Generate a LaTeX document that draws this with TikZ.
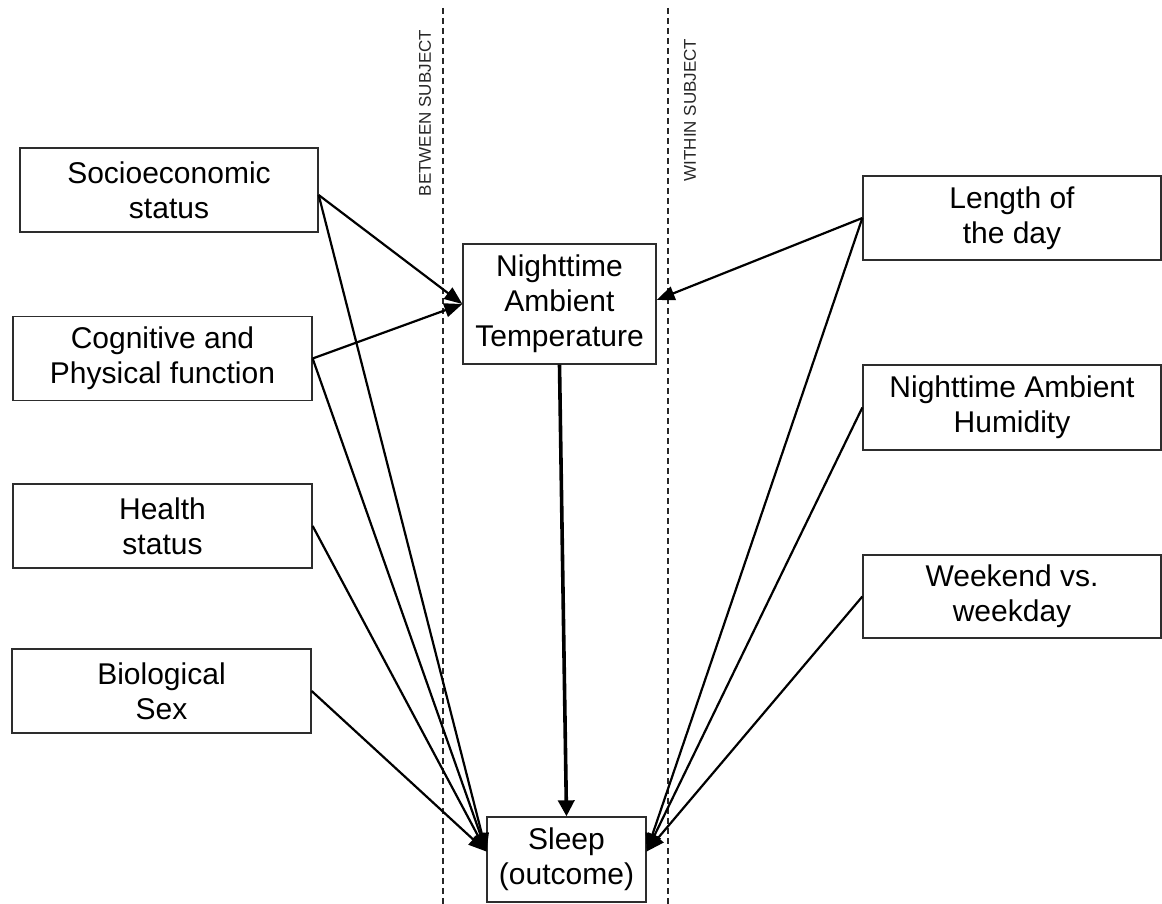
\documentclass[tikz,border=0pt]{standalone}
\usepackage{fontspec}
\setmainfont{Liberation Sans}
\usepackage{tikz}
\usetikzlibrary{arrows.meta,positioning}
\definecolor{boxline}{RGB}{45,45,45}
\tikzset{
  factor/.style={rectangle, draw=boxline, line width=1.3pt, inner sep=0pt,
                 minimum width=298pt, minimum height=84pt, align=center,
                 font=\fontsize{30}{35}\selectfont},
  centerbox/.style={factor},
  arrow/.style={-{Triangle[length=18pt,width=14pt]}, line width=2.2pt, black},
  mainarrow/.style={-{Triangle[length=16pt,width=16pt]}, line width=3.6pt, black},
  divider/.style={dashed, dash pattern=on 6pt off 4pt, line width=1.2pt, black!85},
  sidelabel/.style={rotate=90, font=\fontsize{17}{20}\selectfont, text=black!85},
}
\begin{document}
\begin{tikzpicture}[x=1pt, y=-1pt]
\useasboundingbox (0,0) rectangle (1162,904);

% dividers between the two kinds of predictors
\coordinate (btop) at (443,8);
\coordinate (bbot) at (443,904);
\coordinate (wtop) at (668,8);
\coordinate (wbot) at (668,904);
\draw[divider] (btop) -- (bbot);
\draw[divider] (wtop) -- (wbot);
\node[sidelabel] (between) at (425,113) {BETWEEN SUBJECT};
\node[sidelabel] (within) at (690,110) {WITHIN SUBJECT};

% left column
\node[factor] (ses) at (169,190) {Socioeconomic\\status};
\node[factor, minimum width=299pt] (cogn) at (162.5,358.5) {Cognitive and\\Physical function};
\node[factor, minimum width=299pt] (health) at (162.5,526) {Health\\status};
\node[factor, minimum width=299pt] (sex) at (161.5,691) {Biological\\Sex};

% middle
\node[centerbox, minimum width=193pt, minimum height=120pt] (temp) at (559.5,304)
     {Nighttime\\Ambient\\Temperature};
\node[centerbox, minimum width=159pt, minimum height=85pt] (sleep) at (566.5,859.5)
     {Sleep\\(outcome)};

% right column
\node[factor] (daylen) at (1012,218) {Length of\\the day};
\node[factor, minimum height=85pt] (humid) at (1012,407.5) {Nighttime Ambient\\Humidity};
\node[factor, minimum height=83pt] (weekend) at (1012,596.5) {Weekend vs.\\weekday};

% connectors
\draw[arrow] ([yshift=-5pt]ses.east) -- (temp.west);
\draw[arrow] (cogn.east) -- (temp.west);
\draw[arrow] (daylen.west) -- ([yshift=4pt]temp.east);
\draw[mainarrow] (temp.south) -- (sleep.north);
\draw[arrow] ([yshift=-5pt]ses.east) -- ([yshift=8pt]sleep.west);
\draw[arrow] (cogn.east) -- ([yshift=8pt]sleep.west);
\draw[arrow] (health.east) -- ([yshift=8pt]sleep.west);
\draw[arrow] (sex.east) -- ([yshift=8pt]sleep.west);
\draw[arrow] (daylen.west) -- ([yshift=8pt]sleep.east);
\draw[arrow] (humid.west) -- ([yshift=8pt]sleep.east);
\draw[arrow] (weekend.west) -- ([yshift=8pt]sleep.east);
\end{tikzpicture}
\end{document}
